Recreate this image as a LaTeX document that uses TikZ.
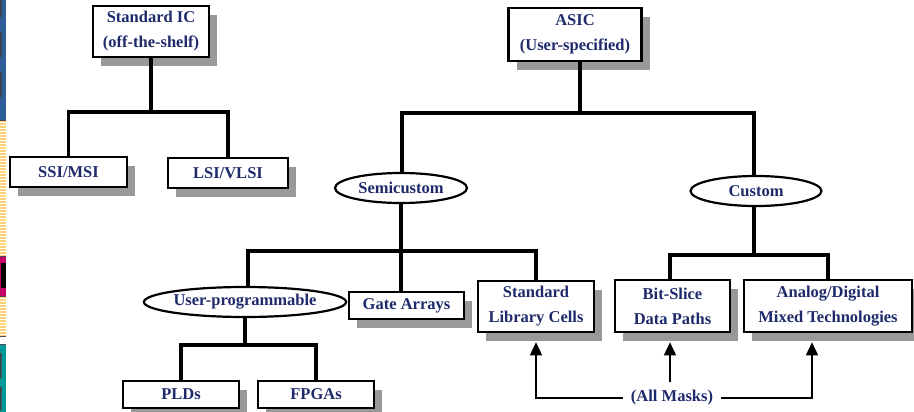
\documentclass[tikz,border=0pt]{standalone}
\usepackage{fontspec}
\setmainfont{Liberation Serif}
\usetikzlibrary{arrows.meta,shapes.geometric,shadows}

\definecolor{txtnavy}{HTML}{1F2A6B}
\definecolor{shadegray}{HTML}{999999}
\definecolor{barblue}{HTML}{2F5F98}
\definecolor{baryellow}{HTML}{FFD27A}
\definecolor{barmagenta}{HTML}{C4006A}
\definecolor{barteal}{HTML}{00999A}

\tikzset{
  lbl/.style={font=\fontsize{16.5}{25}\selectfont\bfseries, text=txtnavy, align=center},
  box/.style={lbl, draw=black, line width=2.6pt, fill=white, inner sep=0pt,
              general shadow={fill=shadegray, shadow xshift=8pt, shadow yshift=-9pt}},
  oval/.style={lbl, ellipse, draw=black, line width=2.2pt, fill=white, inner sep=0pt},
  tree/.style={line width=3.2pt, line cap=rect},
  maskarrow/.style={line width=1.6pt, -{Triangle[width=12pt,length=13pt]}},
}

\begin{document}
\begin{tikzpicture}[x=1pt, y=-1pt]
  \useasboundingbox (0,0) rectangle (914,412);

  % coloured side strip
  \fill[barblue] (0,0) rectangle (6,120);
  \fill[baryellow] (0,120) rectangle (6,256);
  \foreach \yy in {122,125,...,254} \draw[white, line width=0.8pt] (0,\yy) -- (6,\yy);
  \fill[barmagenta] (0,256) rectangle (6,296);
  \fill[baryellow] (0,296) rectangle (6,336);
  \foreach \yy in {298,301,...,334} \draw[white, line width=0.8pt] (0,\yy) -- (6,\yy);
  \fill[barteal] (0,344) rectangle (6,412);
  \draw[black!70, line width=0.8pt] (0,120) -- (6,120) (0,256) -- (6,256) (0,296) -- (6,296) (0,336) -- (6,336) (0,344) -- (6,344);
  \fill[black!75] (0,0) rectangle (1.5,17) (0,32) rectangle (1.5,57) (0,72) rectangle (1.5,97);
  \fill[black] (1,263) rectangle (6,288);
  \fill[black!75] (0,353) rectangle (1.5,378) (0,387) rectangle (1.5,410);

  % standard IC branch
  \node[box, minimum width=116pt, minimum height=51pt] (stdic) at (151,31.5) {Standard IC\\(off-the-shelf)};
  \node[box, minimum width=117pt, minimum height=30pt] (ssi) at (68.5,172) {SSI/MSI};
  \node[box, minimum width=120pt, minimum height=30pt] (lsi) at (228,173) {LSI/VLSI};

  % ASIC branch
  \node[box, minimum width=133pt, minimum height=53pt] (asic) at (575,34.5) {ASIC\\(User-specified)};
  \node[oval, minimum width=132pt, minimum height=30pt] (semi) at (401,188) {Semicustom};
  \node[oval, minimum width=131pt, minimum height=30pt] (cust) at (756,191) {Custom};

  \node[oval, minimum width=175pt, minimum height=30pt] (uprog) at (245,302) {User-programmable};
  \node[box, minimum width=115pt, minimum height=27pt] (gate) at (406.5,305.5) {Gate Arrays};
  \node[box, minimum width=116pt, minimum height=51pt] (stdlib) at (536,306.5) {Standard\\Library Cells};
  \node[box, minimum width=115pt, minimum height=52pt] (bits) at (672.5,306) {Bit-Slice\\Data Paths};
  \node[box, minimum width=168pt, minimum height=52pt] (anal) at (828,306) {Analog/Digital\\Mixed Technologies};

  \node[box, minimum width=116pt, minimum height=27pt] (plds) at (181,394.5) {PLDs};
  \node[box, minimum width=116pt, minimum height=27pt] (fpgas) at (316,394.5) {FPGAs};

  \node[lbl, inner sep=8pt] (masks) at (672,398) {(All Masks)};

  % tree junctions
  \coordinate (jstd) at (151,112);
  \coordinate (jasic) at (580,113);
  \coordinate (jsemi) at (401,251);
  \coordinate (jcust) at (754,255);
  \coordinate (juser) at (245,345);

  % tree connectors
  \draw[tree] (stdic.south) -- (jstd);
  \draw[tree] (ssi.north) |- (jstd) -| (lsi.north);

  \draw[tree] (asic.south -| jasic) -- (jasic);
  \draw[tree] (semi.north -| 402,0) |- (jasic) -| (cust.north -| jcust);

  \draw[tree] (semi.south) -- (gate.north -| semi.south);
  \draw[tree] (uprog.north -| 248,0) |- (jsemi) -| (stdlib.north);

  \draw[tree] (cust.south -| jcust) -- (jcust);
  \draw[tree] (bits.north -| 670,0) |- (jcust) -| (anal.north);

  \draw[tree] (uprog.south) -- (juser);
  \draw[tree] (plds.north) |- (juser) -| (fpgas.north);

  % mask arrows
  \draw[maskarrow] (masks.west) -| ([yshift=-9pt]stdlib.south);
  \draw[maskarrow] (masks.north -| 670,0) -- ([yshift=-9pt]bits.south -| 670,0);
  \draw[maskarrow] (masks.east) -| ([xshift=-16pt,yshift=-9pt]anal.south);
\end{tikzpicture}
\end{document}
